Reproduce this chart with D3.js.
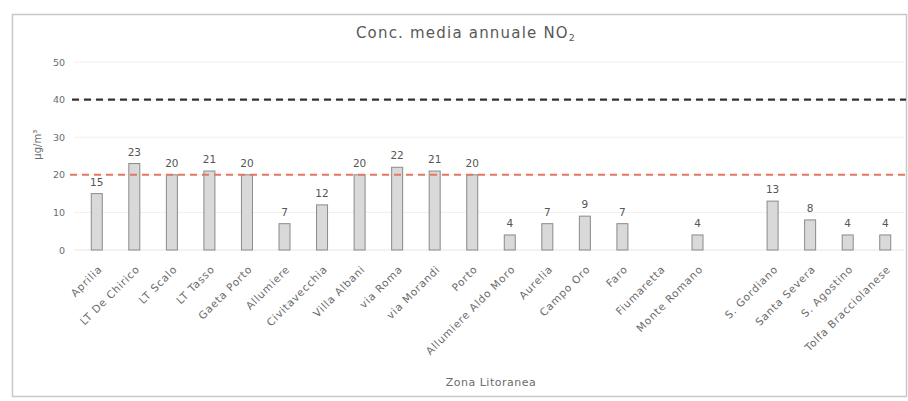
<!DOCTYPE html>
<html>
<head>
<meta charset="utf-8">
<script src="https://cdn.jsdelivr.net/npm/d3@7/dist/d3.min.js"></script>
<style>
  html, body { margin: 0; padding: 0; background: #fff; }
  svg { display: block; font-family: "DejaVu Sans", "Lato", sans-serif; }
</style>
</head>
<body>
<svg id="chart" width="908" height="401"></svg>
<script>
// Stations of the coastal zone and their annual mean NO2 (µg/m³); null = no data
const categories = [
  "Aprilia", "LT De Chirico", "LT Scalo", "LT Tasso", "Gaeta Porto", "Allumiere",
  "Civitavecchia", "Villa Albani", "via Roma", "via Morandi", "Porto",
  "Allumiere Aldo Moro", "Aurelia", "Campo Oro", "Faro", "Fiumaretta",
  "Monte Romano", "", "S. Gordiano", "Santa Severa", "S. Agostino", "Tolfa Bracciolanese"
];
const values = [15, 23, 20, 21, 20, 7, 12, 20, 22, 21, 20, 4, 7, 9, 7, null, 4, null, 13, 8, 4, 4];
const yTicks = [0, 10, 20, 30, 40, 50];
const limitValue = 40;      // annual limit value
const thresholdValue = 20;  // lower reference threshold

const svg = d3.select("#chart");
const W = 908, H = 401;
const margin = { left: 78, right: 4, top: 62, bottom: 151 };
const textGrey = "#6b6b6b";

// outer chart frame
svg.append("rect")
  .attr("x", 12.5).attr("y", 14.5)
  .attr("width", 894).attr("height", 382)
  .attr("fill", "#fff").attr("stroke", "#c8c8c8").attr("stroke-width", 1.5);

const x = d3.scaleBand()
  .domain(d3.range(categories.length))
  .range([margin.left, W - margin.right])
  .paddingInner(0.7).paddingOuter(0.35);

const y = d3.scaleLinear().domain([0, 50]).range([H - margin.bottom, margin.top]);

// gridlines
svg.append("g")
  .selectAll("line").data(yTicks.filter(d => d > 0)).join("line")
  .attr("x1", margin.left - 4).attr("x2", W - margin.right)
  .attr("y1", d => y(d)).attr("y2", d => y(d))
  .attr("stroke", "#efefef").attr("stroke-width", 1);

// y axis labels
const yAxis = svg.append("g")
  .attr("transform", `translate(${margin.left - 13},0)`)
  .call(d3.axisLeft(y).tickValues(yTicks).tickSize(0).tickPadding(0));
yAxis.select(".domain").remove();
yAxis.selectAll("text")
  .attr("fill", textGrey).attr("font-size", 9.5)
  .attr("font-family", "DejaVu Sans, sans-serif");

// x baseline
svg.append("line")
  .attr("x1", margin.left - 4).attr("x2", W - margin.right)
  .attr("y1", y(0)).attr("y2", y(0))
  .attr("stroke", "#e6e6e6").attr("stroke-width", 1);

// bars
const bw = 11;
svg.append("g")
  .selectAll("rect").data(values.map((v, i) => ({ v, i })).filter(d => d.v != null)).join("rect")
  .attr("x", d => x(d.i) + x.bandwidth() / 2 - bw / 2)
  .attr("y", d => y(d.v))
  .attr("width", bw)
  .attr("height", d => y(0) - y(d.v))
  .attr("fill", "#d9d9d9").attr("stroke", "#8a8a8a").attr("stroke-width", 1);

// reference lines
svg.append("line")
  .attr("x1", 72).attr("x2", W - 2)
  .attr("y1", y(limitValue)).attr("y2", y(limitValue))
  .attr("stroke", "#333").attr("stroke-width", 2.2).attr("stroke-dasharray", "7,5");
svg.append("line")
  .attr("x1", 70).attr("x2", W - 2)
  .attr("y1", y(thresholdValue)).attr("y2", y(thresholdValue))
  .attr("stroke", "#e07a62").attr("stroke-width", 2).attr("stroke-dasharray", "7,5");

// value labels
svg.append("g")
  .selectAll("text").data(values.map((v, i) => ({ v, i })).filter(d => d.v != null)).join("text")
  .attr("x", d => x(d.i) + x.bandwidth() / 2)
  .attr("y", d => y(d.v) - 8)
  .attr("text-anchor", "middle")
  .attr("font-size", 10.5).attr("fill", "#555")
  .text(d => d.v);

// category labels, rotated
svg.append("g")
  .selectAll("text").data(categories.map((c, i) => ({ c, i }))).join("text")
  .attr("transform", d => `translate(${x(d.i) + x.bandwidth() / 2 + 6},${y(0) + 20}) rotate(-45)`)
  .attr("text-anchor", "end")
  .attr("font-size", 10.5).attr("letter-spacing", 0.8).attr("fill", textGrey)
  .text(d => d.c);

// y axis title
svg.append("text")
  .attr("transform", `translate(41,${y(28)}) rotate(-90)`)
  .attr("text-anchor", "middle")
  .attr("font-size", 10).attr("fill", textGrey)
  .text("µg/m³");

// x axis title
svg.append("text")
  .attr("x", (margin.left + W - margin.right) / 2).attr("y", 386)
  .attr("text-anchor", "middle")
  .attr("font-size", 11).attr("letter-spacing", 0.5).attr("fill", textGrey)
  .text("Zona Litoranea");

// chart title
const title = svg.append("text")
  .attr("x", 466).attr("y", 38)
  .attr("text-anchor", "middle")
  .attr("font-size", 15).attr("letter-spacing", 1.2).attr("fill", "#595959");
title.append("tspan").text("Conc. media annuale NO");
title.append("tspan").attr("font-size", 9.5).attr("dy", 3).text("2");
</script>
</body>
</html>
